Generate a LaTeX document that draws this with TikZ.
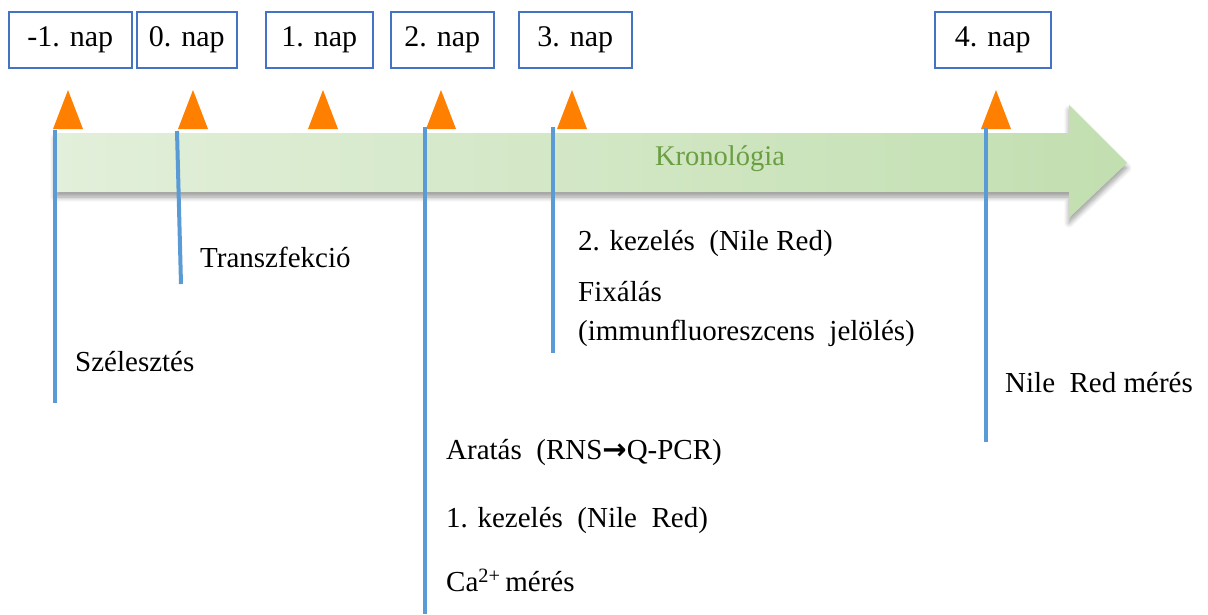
\documentclass[tikz,border=0pt]{standalone}
\usepackage{fontspec}
\newfontfamily\libserif{Liberation Serif}
\newfontfamily\arrowfont{DejaVu Sans}
\usetikzlibrary{shadows.blur}
\definecolor{boxblue}{RGB}{68,114,196}
\definecolor{lineblue}{RGB}{91,155,213}
\definecolor{triorange}{RGB}{255,128,0}
\definecolor{greentop}{RGB}{226,239,218}
\definecolor{greenbot}{RGB}{194,223,176}
\definecolor{krongreen}{RGB}{106,158,66}
\tikzset{
  daybox/.style={draw=boxblue, line width=1.5pt, fill=white, minimum height=56pt, inner sep=0pt, font={\libserif\fontsize{30}{32}\selectfont}, anchor=north west},
  tri/.style={fill=triorange, draw=none},
  tick/.style={draw=lineblue, line width=4pt},
  lbl/.style={anchor=west, inner sep=0pt, font={\libserif\fontsize{29}{32}\selectfont}}
}
\begin{document}
\begin{tikzpicture}[x=1pt,y=-1pt]
\useasboundingbox (0,0) rectangle (1208,614);
% day boxes
\node[daybox, minimum width=123pt] (d1) at (8,11) {-1. nap};
\node[daybox, minimum width=100pt] (d2) at (136,11) {0. nap};
\node[daybox, minimum width=107pt] (d3) at (265,11) {1. nap};
\node[daybox, minimum width=103pt] (d4) at (390,11) {2. nap};
\node[daybox, minimum width=113pt] (d5) at (518,11) {3. nap};
\node[daybox, minimum width=116pt] (d6) at (934,11) {4. nap};
% arrow
\path[left color=greentop, right color=greenbot,
  blur shadow={shadow xshift=0pt, shadow yshift=-5pt, shadow blur radius=5pt, shadow blur steps=8, shadow opacity=40}]
  (55,133) -- (1069,133) -- (1069,105) -- (1127,163) -- (1069,218) -- (1069,192) -- (55,192) -- cycle;
\node[text=krongreen, font={\libserif\fontsize{28.5}{30}\selectfont}] (kron) at (720,159) {Kronológia};
% triangles
\foreach \cx/\n in {68/t1,193/t2,323/t3,441/t4,572/t5,996/t6}{
  \fill[tri] (\cx-15,129) -- (\cx,90) -- (\cx+15,129) -- cycle;
}
% ticks
\coordinate (a1) at (55,130); \coordinate (b1) at (55,403);
\coordinate (a2) at (177,131); \coordinate (b2) at (181,284);
\coordinate (a3) at (425,127); \coordinate (b3) at (425,614);
\coordinate (a4) at (553,127); \coordinate (b4) at (553,353);
\coordinate (a5) at (986,128); \coordinate (b5) at (986,442);
\draw[tick] (a1) -- (b1);
\draw[tick] (a2) -- (b2);
\draw[tick] (a3) -- (b3);
\draw[tick] (a4) -- (b4);
\draw[tick] (a5) -- (b5);
% labels
\node[lbl] (l1) at (75,362) {Szélesztés};
\node[lbl] (l2) at (200,257) {Transzfekció};
\node[lbl] (l3) at (578,243) {2. kezelés\ \ (Nile Red)};
\node[lbl] (l4) at (578,292) {Fixálás};
\node[lbl] (l5) at (578,333) {(immunfluoreszcens\ \ jelölés)};
\node[lbl] (l6) at (1005,383) {Nile\ \ Red mérés};
\node[lbl] (l7) at (446,452) {Aratás\ \ (RNS{\arrowfont\bfseries →}Q-PCR)};
\node[lbl] (l8) at (446,520) {1. kezelés\ \ (Nile\ \ Red)};
\node[lbl] (l9) at (446,580) {Ca\textsuperscript{2+}\,mérés};
\end{tikzpicture}
\end{document}
